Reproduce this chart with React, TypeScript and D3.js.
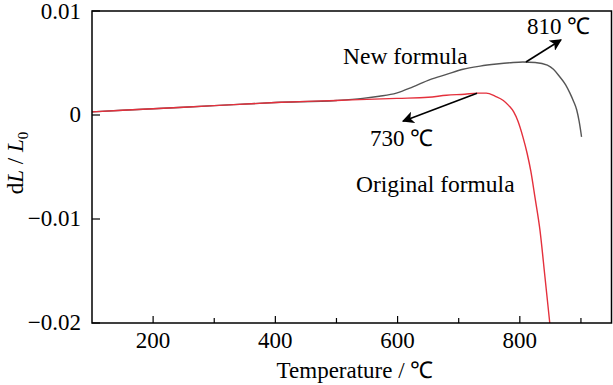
import { scaleLinear, line, curveMonotoneX } from "d3";

const width = 613;
const height = 385;
const margin = { top: 11, right: 1.5, bottom: 62, left: 92 };

const innerWidth = width - margin.left - margin.right;
const innerHeight = height - margin.top - margin.bottom;

// curve: new formula (grey)
const newTemps = [100, 200, 300, 400, 500, 543, 570, 598, 625, 653, 680, 707, 735, 762, 785, 805, 825, 845, 855, 865, 875, 882, 888, 893, 897, 901];
const newValues = [0.0003, 0.0006, 0.0009, 0.0012, 0.0014, 0.0016, 0.0018, 0.0021, 0.0027, 0.0034, 0.0039, 0.0044, 0.0047, 0.0049, 0.00503, 0.0051, 0.00505, 0.0048, 0.0044, 0.0037, 0.0029, 0.0021, 0.0013, 0.0005, -0.0006, -0.0021];

// original formula (red)
const origTemps = [100, 200, 300, 400, 500, 550, 600, 650, 680, 710, 730, 745, 760, 773, 782, 790, 797, 805, 812, 818, 825, 833, 841, 849];
const origValues = [0.0003, 0.0006, 0.0009, 0.0012, 0.0014, 0.0015, 0.0016, 0.0017, 0.0019, 0.002, 0.0021, 0.0021, 0.0018, 0.0014, 0.0009, 0.0003, -0.0006, -0.0021, -0.0037, -0.0054, -0.008, -0.0111, -0.0155, -0.02];

const xMajorTicks = [200, 400, 600, 800];
const xMinorTicks = [300, 500, 700, 900];
const yTicks = [0.01, 0, -0.01, -0.02];
const yTickLabels = ["0.01", "0", "\u22120.01", "\u22120.02"];

const font = "'Liberation Serif', 'Times New Roman', serif";
const fontSize = 23;

function App() {
  const x = scaleLinear().domain([100, 950]).range([0, innerWidth]);
  const y = scaleLinear().domain([-0.02, 0.01]).range([innerHeight, 0]);

  const path = line<[number, number]>()
    .x((d) => x(d[0]))
    .y((d) => y(d[1]))
    .curve(curveMonotoneX);

  const newPath = path(newTemps.map((t, i) => [t, newValues[i]]));
  const origPath = path(origTemps.map((t, i) => [t, origValues[i]]));

  // annotation arrow anchors (peaks)
  const p810 = [x(810), y(0.0051)];
  const p730 = [x(730), y(0.0021)];

  return (
    <svg
      width={width}
      height={height}
      style={{ position: "absolute", left: 0, top: 0, background: "#fff" }}
      fontFamily={font}
      fontSize={fontSize}
    >
      <defs>
        <marker
          id="arrow"
          viewBox="0 0 10 10"
          refX="9"
          refY="5"
          markerWidth="12"
          markerHeight="12"
          markerUnits="userSpaceOnUse"
          orient="auto"
        >
          <path d="M0,0 L10,5 L0,10 L2.5,5 z" fill="#000" />
        </marker>
      </defs>
      <g transform={`translate(${margin.left},${margin.top})`}>
        <path d={newPath ?? ""} fill="none" stroke="#555" strokeWidth={1.4} />
        <path d={origPath ?? ""} fill="none" stroke="#e4303c" strokeWidth={1.4} />

        {xMajorTicks.map((t) => (
          <g key={t} transform={`translate(${x(t)},${innerHeight})`}>
            <line y2={-7} stroke="#000" strokeWidth={1.2} />
            <text y={25} textAnchor="middle">
              {t}
            </text>
          </g>
        ))}
        {xMinorTicks.map((t) => (
          <line
            key={t}
            x1={x(t)}
            x2={x(t)}
            y1={innerHeight}
            y2={innerHeight - 5}
            stroke="#000"
            strokeWidth={1.2}
          />
        ))}
        {yTicks.map((t, i) => (
          <g key={t} transform={`translate(0,${y(t)})`}>
            <line x2={8} stroke="#000" strokeWidth={1.2} />
            <text x={-11} dy={i === 0 ? "0.36em" : "0.3em"} textAnchor="end">
              {yTickLabels[i]}
            </text>
          </g>
        ))}

        <rect
          width={innerWidth}
          height={innerHeight}
          fill="none"
          stroke="#000"
          strokeWidth={1.5}
        />

        <line
          x1={p810[0]}
          y1={p810[1]}
          x2={p810[0] + 35}
          y2={p810[1] - 22}
          stroke="#000"
          strokeWidth={1.6}
          markerEnd="url(#arrow)"
        />
        <line
          x1={p730[0]}
          y1={p730[1]}
          x2={p730[0] - 74}
          y2={p730[1] + 28}
          stroke="#000"
          strokeWidth={1.6}
          markerEnd="url(#arrow)"
        />
        <text x={435} y={23}>810 ℃</text>
        <text x={251} y={53} fontSize={23.5}>New formula</text>
        <text x={278} y={135}>730 ℃</text>
        <text x={264} y={181} fontSize={23.5}>Original formula</text>
      </g>

      <text x={355} y={378} textAnchor="middle">
        Temperature / ℃
      </text>
      <text transform="translate(23,163) rotate(-90)" textAnchor="middle">
        d<tspan fontStyle="italic">L</tspan> / <tspan fontStyle="italic">L</tspan>
        <tspan dy={5} fontSize={15}>0</tspan>
      </text>
    </svg>
  );
}

export default App;
